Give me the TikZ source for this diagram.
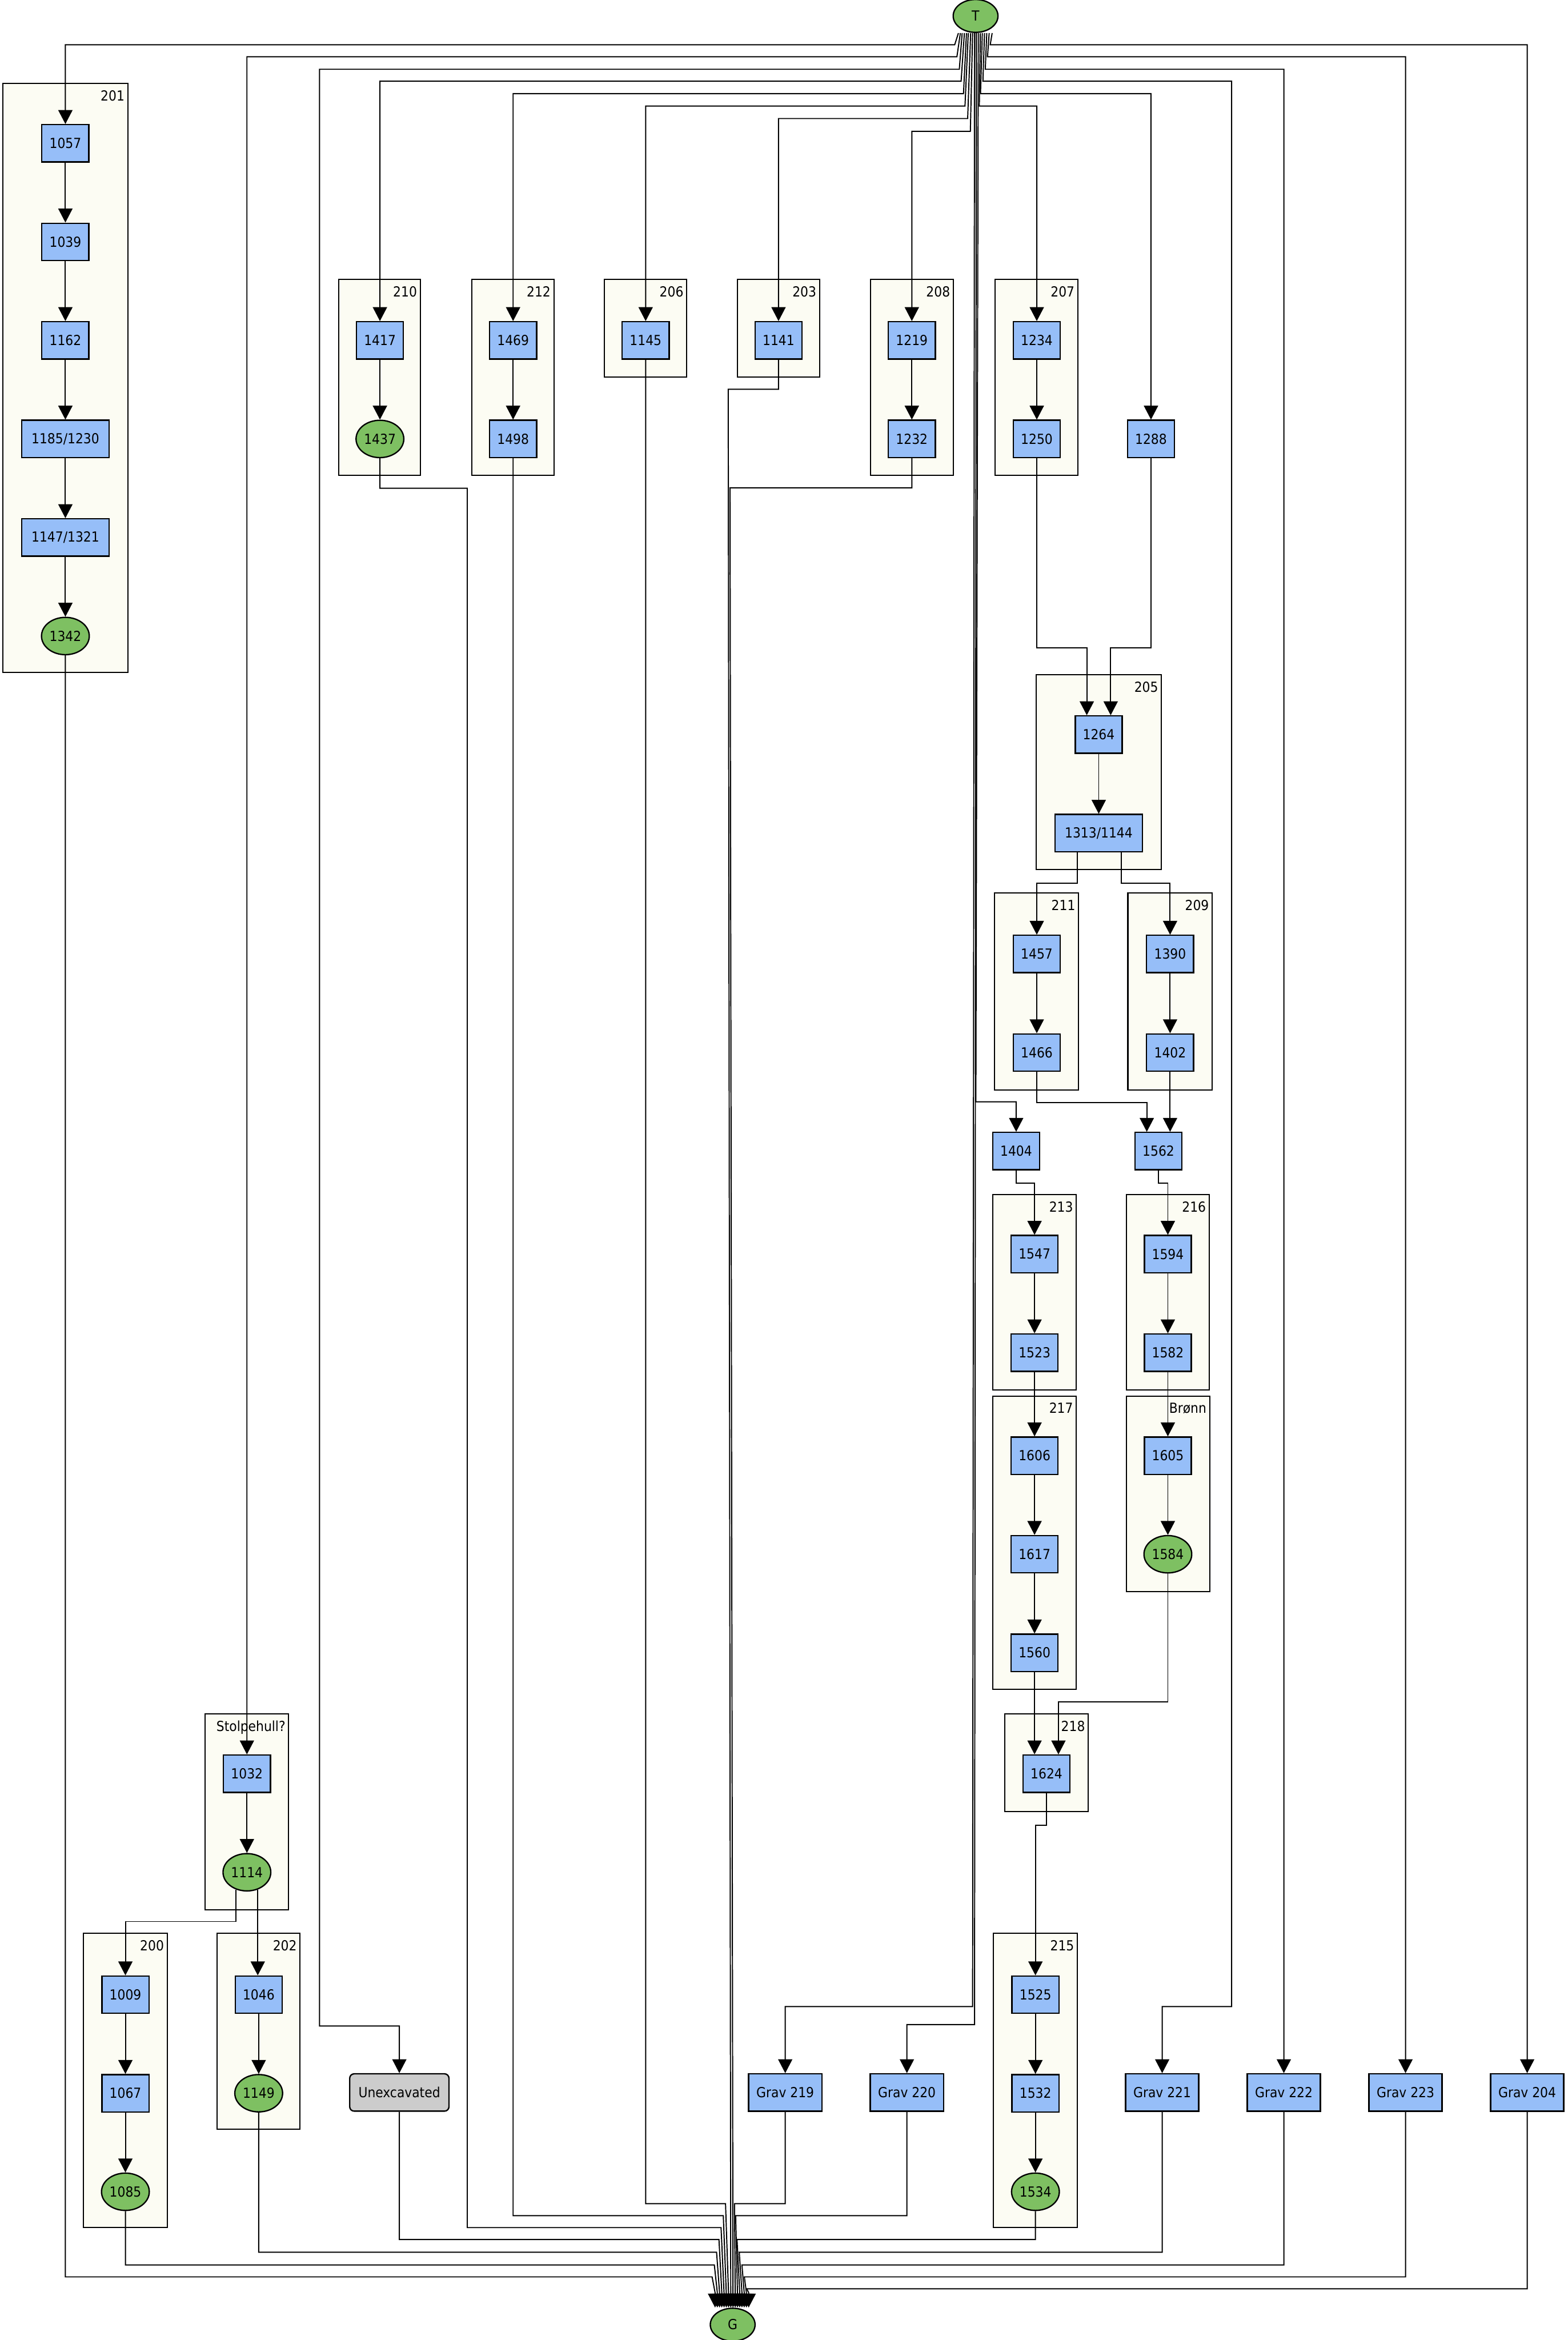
\documentclass[tikz,border=0pt]{standalone}
\usepackage{fontspec}
\setmainfont{DejaVu Sans Condensed}
\usetikzlibrary{arrows.meta,shapes.geometric}
\definecolor{nblue}{RGB}{150,190,248}
\definecolor{ngreen}{RGB}{126,192,98}
\definecolor{cfill}{RGB}{252,252,243}
\definecolor{ngray}{RGB}{204,204,204}
\tikzset{
  every node/.style={font=\fontsize{9.3}{11}\selectfont, inner sep=0pt},
  bx/.style={draw, line width=0.9pt, fill=nblue, minimum width=31.5pt, minimum height=25pt},
  wbx/.style={bx, minimum width=58.5pt},
  gbx/.style={bx, minimum width=49pt},
  el/.style={ellipse, draw, line width=0.9pt, fill=ngreen, minimum width=32pt, minimum height=25pt},
  ux/.style={draw, line width=0.9pt, fill=ngray, rounded corners=3pt, minimum width=66.5pt, minimum height=25pt},
  clus/.style={draw, line width=0.8pt, fill=cfill},
  clab/.style={anchor=north east},
  edg/.style={line width=0.75pt, -{Triangle[length=9.3pt,width=9.5pt]}},
}
\newcommand\clu[6]{\draw[clus] (#1,#2) rectangle (#3,#4); \node[clab] (#6) at (#3-2,#2+4.5) {#5};}
\begin{document}
\begin{tikzpicture}[x=1pt,y=-1pt]
\useasboundingbox (0,0) rectangle (1050,1567.3);
% clusters
\clu{2}{56}{85.6}{450.5}{201}{c201}
\clu{227}{187}{281.5}{318.5}{210}{c210}
\clu{316}{187}{371}{318.5}{212}{c212}
\clu{405}{187}{460}{252.5}{206}{c206}
\clu{494}{187}{549}{252.5}{203}{c203}
\clu{583}{187}{638.6}{318.5}{208}{c208}
\clu{666.5}{187}{722}{318.5}{207}{c207}
\clu{694}{452}{778}{582.5}{205}{c205}
\clu{666.3}{598}{722.5}{730}{211}{c211}
\clu{755.5}{598}{812}{730}{209}{c209}
\clu{665}{800}{721}{931}{213}{c213}
\clu{754.5}{800}{810}{931}{216}{c216}
\clu{665}{935}{721}{1131.5}{217}{c217}
\clu{754.5}{935}{810.3}{1066}{Brønn}{cbronn}
\clu{673}{1148}{729}{1213.5}{218}{c218}
\clu{137.4}{1148}{193.4}{1279}{Stolpehull?}{cstolpe}
\clu{56}{1295}{112}{1492}{200}{c200}
\clu{145.5}{1295}{201}{1426}{202}{c202}
\clu{665.5}{1295}{721.7}{1492}{215}{c215}
% nodes
\node[el,minimum width=30pt,minimum height=22pt] (T) at (653.5,10.7) {T};
\node[el,minimum width=30pt,minimum height=22pt] (G) at (490.8,1557) {G};
\node[bx] (n1057) at (43.8,96) {1057};
\node[bx] (n1039) at (43.8,162) {1039};
\node[bx] (n1162) at (43.8,228) {1162};
\node[wbx] (n1185) at (43.8,294) {1185/1230};
\node[wbx] (n1147) at (43.8,360) {1147/1321};
\node[el] (n1342) at (43.8,426) {1342};
\node[bx] (n1417) at (254.5,228) {1417};
\node[el] (n1437) at (254.5,294) {1437};
\node[bx] (n1469) at (343.7,228) {1469};
\node[bx] (n1498) at (343.7,294) {1498};
\node[bx] (n1145) at (432.5,228) {1145};
\node[bx] (n1141) at (521.5,228) {1141};
\node[bx] (n1219) at (610.8,228) {1219};
\node[bx] (n1232) at (610.8,294) {1232};
\node[bx] (n1234) at (694.5,228) {1234};
\node[bx] (n1250) at (694.5,294) {1250};
\node[bx] (n1288) at (771,294) {1288};
\node[bx] (n1264) at (736,492) {1264};
\node[wbx] (n1313) at (736,558) {1313/1144};
\node[bx] (n1457) at (694.5,639) {1457};
\node[bx] (n1466) at (694.5,705) {1466};
\node[bx] (n1390) at (783.8,639) {1390};
\node[bx] (n1402) at (783.8,705) {1402};
\node[bx] (n1404) at (680.7,771) {1404};
\node[bx] (n1562) at (776,771) {1562};
\node[bx] (n1547) at (693,840) {1547};
\node[bx] (n1523) at (693,906) {1523};
\node[bx] (n1594) at (782.3,840) {1594};
\node[bx] (n1582) at (782.3,906) {1582};
\node[bx] (n1606) at (693,975) {1606};
\node[bx] (n1617) at (693,1041) {1617};
\node[bx] (n1560) at (693,1107) {1560};
\node[bx] (n1605) at (782.3,975) {1605};
\node[el] (n1584) at (782.3,1041) {1584};
\node[bx] (n1624) at (701,1188) {1624};
\node[bx] (n1032) at (165.4,1188) {1032};
\node[el] (n1114) at (165.4,1254) {1114};
\node[bx] (n1009) at (84,1336) {1009};
\node[bx] (n1067) at (84,1402) {1067};
\node[el] (n1085) at (84,1468) {1085};
\node[bx] (n1046) at (173.3,1336) {1046};
\node[el] (n1149) at (173.3,1402) {1149};
\node[ux] (nUnex) at (267.5,1401.5) {Unexcavated};
\node[gbx] (g219) at (526,1401.5) {Grav 219};
\node[gbx] (g220) at (607.5,1401.5) {Grav 220};
\node[bx] (n1525) at (693.6,1336) {1525};
\node[bx] (n1532) at (693.6,1402) {1532};
\node[el] (n1534) at (693.6,1468) {1534};
\node[gbx] (g221) at (778.5,1401.5) {Grav 221};
\node[gbx] (g222) at (860,1401.5) {Grav 222};
\node[gbx] (g223) at (941.5,1401.5) {Grav 223};
\node[gbx] (g204) at (1023,1401.5) {Grav 204};
% edges from T
\draw[edg] ([xshift=-11.5pt]T.south) -- (639.5,30) -| (n1057);
\draw[edg] ([xshift=-10.2pt]T.south) -- (641,38) -| (n1032);
\draw[edg] ([xshift=-9pt]T.south) -- (642.6,46.4) -- (214,46.4) -- (214,1357) -| (nUnex);
\draw[edg] ([xshift=-7.5pt]T.south) -- (643.8,54.4) -| (n1417);
\draw[edg] ([xshift=-6.1pt]T.south) -- (645.4,62.7) -| (n1469);
\draw[edg] ([xshift=-4.9pt]T.south) -- (646.4,71) -| (n1145);
\draw[edg] ([xshift=-3.3pt]T.south) -- (648.2,79.4) -| (n1141);
\draw[edg] ([xshift=-2pt]T.south) -- (650,88) -| (n1219);
\draw[edg] ([xshift=-0.7pt]T.south) -- (651.5,1344) -| (g219);
\draw[edg] ([xshift=0.5pt]T.south) -- (652.8,1356) -| (g220);
\draw[edg] ([xshift=1.8pt]T.south) -- (653.7,738) -| (n1404);
\draw[edg] ([xshift=3.2pt]T.south) -- (656,71) -| (n1234);
\draw[edg] ([xshift=4.5pt]T.south) -- (656.8,62.7) -| (n1288);
\draw[edg] ([xshift=6pt]T.south) -- (658.4,54.4) -- (825,54.4) -- (825,1344) -| (g221);
\draw[edg] ([xshift=7.5pt]T.south) -- (660,46.4) -| (g222);
\draw[edg] ([xshift=9.1pt]T.south) -- (661.5,38) -| (g223);
\draw[edg] ([xshift=11.1pt]T.south) -- (663.3,30) -| (g204);
% internal edges
\draw[edg] (n1057) -- (n1039);
\draw[edg] (n1039) -- (n1162);
\draw[edg] (n1162) -- (n1185);
\draw[edg] (n1185) -- (n1147);
\draw[edg] (n1147) -- (n1342);
\draw[edg] (n1417) -- (n1437);
\draw[edg] (n1469) -- (n1498);
\draw[edg] (n1219) -- (n1232);
\draw[edg] (n1234) -- (n1250);
\draw[edg] (n1250) |- (728,434) -- ([xshift=-8pt]n1264.north);
\draw[edg] (n1288) |- (744,434) -- ([xshift=8pt]n1264.north);
\draw[edg] (n1264) -- (n1313);
\draw[edg] ([xshift=-14.5pt]n1313.south) -- ++(0,20.5) -| (n1457);
\draw[edg] ([xshift=15pt]n1313.south) -- ++(0,20.5) -| (n1390);
\draw[edg] (n1457) -- (n1466);
\draw[edg] (n1390) -- (n1402);
\draw[edg] (n1466.south) -- ++(0,20.5) -| ([xshift=-7.8pt]n1562.north);
\draw[edg] (n1402.south) -- (n1402.south |- n1562.north);
\draw[edg] (n1404.south) -- ++(0,8.5) -| (n1547);
\draw[edg] (n1562.south) -- ++(0,8.5) -| (n1594);
\draw[edg] (n1547) -- (n1523);
\draw[edg] (n1523) -- (n1606);
\draw[edg] (n1594) -- (n1582);
\draw[edg] (n1582) -- (n1605);
\draw[edg] (n1606) -- (n1617);
\draw[edg] (n1617) -- (n1560);
\draw[edg] (n1605) -- (n1584);
\draw[edg] (n1560.south) -- ([xshift=-8pt]n1624.north);
\draw[edg] (n1584) |- (709,1140) -- ([xshift=8pt]n1624.north);
\draw[edg] (n1624.south) -- ++(0,21.5) -| (n1525);
\draw[edg] (n1525) -- (n1532);
\draw[edg] (n1532) -- (n1534);
\draw[edg] (n1032) -- (n1114);
\draw[edg] (n1114.238) |- (84,1287) -- (n1009);
\draw[edg] (n1114.302) -- (n1114.302 |- n1046.north);
\draw[edg] (n1009) -- (n1067);
\draw[edg] (n1067) -- (n1085);
\draw[edg] (n1046) -- (n1149);
% edges into G
\draw[edg] (n1342) |- (477,1525) -- ([xshift=-11.8pt,yshift=10pt]G.north) -- ([xshift=-11.8pt]G.north);
\draw[edg] (n1085) |- (478.5,1517) -- ([xshift=-10.3pt,yshift=10pt]G.north) -- ([xshift=-10.3pt]G.north);
\draw[edg] (n1149) |- (480,1508.5) -- ([xshift=-8.8pt,yshift=10pt]G.north) -- ([xshift=-8.8pt]G.north);
\draw[edg] (nUnex) |- (481.6,1500) -- ([xshift=-7.3pt,yshift=10pt]G.north) -- ([xshift=-7.3pt]G.north);
\draw[edg] (n1437) -- (254.5,327) -- (313,327) |- (483,1492) -- ([xshift=-5.8pt,yshift=10pt]G.north) -- ([xshift=-5.8pt]G.north);
\draw[edg] (n1498) |- (484.5,1484) -- ([xshift=-4.3pt,yshift=10pt]G.north) -- ([xshift=-4.3pt]G.north);
\draw[edg] (n1145) |- (486,1476) -- ([xshift=-2.8pt,yshift=10pt]G.north) -- ([xshift=-2.8pt]G.north);
\draw[edg] (n1141) |- (487.8,260.7) -- ([xshift=-1.3pt,yshift=10pt]G.north) -- ([xshift=-1.3pt]G.north);
\draw[edg] (n1232) |- (489,326.7) -- ([xshift=0.2pt,yshift=10pt]G.north) -- ([xshift=0.2pt]G.north);
\draw[edg] (g219) |- (492,1476) -- ([xshift=1.7pt,yshift=10pt]G.north) -- ([xshift=1.7pt]G.north);
\draw[edg] (g220) |- (492.8,1484) -- ([xshift=3.2pt,yshift=10pt]G.north) -- ([xshift=3.2pt]G.north);
\draw[edg] (n1534) |- (493.7,1500) -- ([xshift=4.7pt,yshift=10pt]G.north) -- ([xshift=4.7pt]G.north);
\draw[edg] (g221) |- (495.2,1508.5) -- ([xshift=6.2pt,yshift=10pt]G.north) -- ([xshift=6.2pt]G.north);
\draw[edg] (g222) |- (497,1517) -- ([xshift=7.7pt,yshift=10pt]G.north) -- ([xshift=7.7pt]G.north);
\draw[edg] (g223) |- (498.6,1525) -- ([xshift=9.2pt,yshift=10pt]G.north) -- ([xshift=9.2pt]G.north);
\draw[edg] (g204) |- (500.2,1533) -- ([xshift=10.7pt,yshift=10pt]G.north) -- ([xshift=10.7pt]G.north);
\end{tikzpicture}
\end{document}
